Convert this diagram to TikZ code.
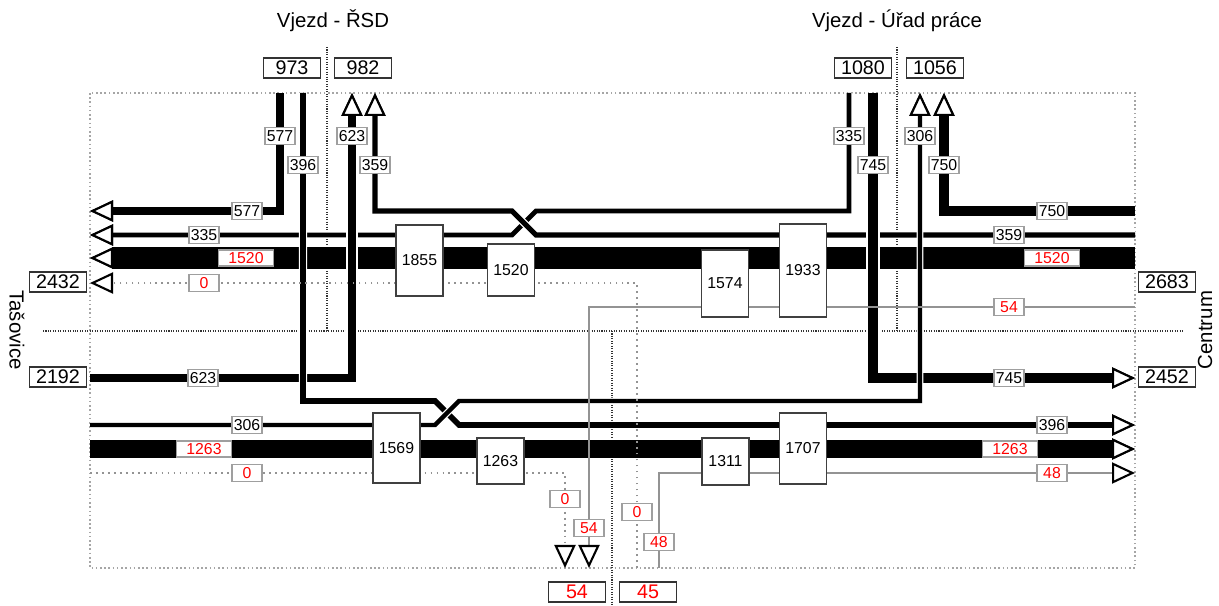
\documentclass[tikz,border=0pt]{standalone}
\usepackage{fontspec}
\setmainfont{Liberation Sans}
\usetikzlibrary{arrows.meta}

\begin{document}
\begin{tikzpicture}[
      x=0.1mm, y=-0.1mm,
      % --- GLOBAL STYLES ---
      every node/.style={font=\fontsize{4.5}{5}\selectfont, inner sep=0pt},
      title/.style={font=\fontsize{5.8}{6}\selectfont},
      gate/.style={draw=black!80, fill=white, line width=0.4pt, minimum width=5.7mm, minimum height=2mm, font=\fontsize{5.6}{6}\selectfont},
      junction/.style={draw=black!75, fill=white, line width=0.4pt, minimum width=4.7mm},
      lbl/.style={draw=gray!75, fill=white, line width=0.4pt, minimum width=3mm, minimum height=1.7mm},
      lbl-red/.style={lbl, text=red},
      lbl-wide/.style={lbl, text=red, minimum width=5.5mm, minimum height=1.6mm},
      %
      vol/.style={line width=#1/700*1mm, preaction={draw=white, line width=#1/700*1mm+0.25mm}},
      thin-flow/.style={draw=gray!85, line width=0.35pt},
      zero-flow/.style={draw=gray!85, line width=0.6pt, dash pattern=on 0.5pt off 1.2pt},
      arr-out/.style={-{Triangle[length=2.3mm, width=2.1mm, line width=0.6pt, color=black, fill=white]}},
      frame-line/.style={draw=gray!70, line width=0.6pt, dash pattern=on 0.45pt off 0.75pt},
      split-line/.style={draw=black!80, line width=0.3pt, dash pattern=on 0.3pt off 0.4pt}
  ]
    \useasboundingbox (0,0) rectangle (1219,606);
    %
    % 1. Frame and section dividers
    \draw[frame-line] (90,93) rectangle (1135,568);
    \draw[split-line] (43,331) -- (1183,331);
    \draw[split-line] (327,47) -- (327,331);
    \draw[split-line] (897,47) -- (897,331);
    \draw[split-line] (612,331) -- (612,606);
    %
    % 2. Arm names and gate totals
    \node[title] (t-rsd) at (333,21) {Vjezd - ŘSD};
    \node[title] (t-urad) at (897,21) {Vjezd - Úřad práce};
    \node[title, rotate=-90] (t-tas) at (17,330) {Tašovice};
    \node[title, rotate=90] (t-cen) at (1205,330) {Centrum};
    \node[gate] (g973) at (292,68) {973};
    \node[gate] (g982) at (363,68) {982};
    \node[gate] (g1080) at (863,68) {1080};
    \node[gate] (g1056) at (935,68) {1056};
    \node[gate] (g2432) at (58,282) {2432};
    \node[gate] (g2192) at (58,377) {2192};
    \node[gate] (g2683) at (1167,282) {2683};
    \node[gate] (g2452) at (1167,377) {2452};
    \node[gate, text=red] (g54) at (577,592) {54};
    \node[gate, text=red] (g45) at (648,592) {45};
    %
    % 3. Flow ends on the frame
    \coordinate (n577) at (280,93);
    \coordinate (n396) at (303,93);
    \coordinate (n623) at (352,93);
    \coordinate (n359) at (375,93);
    \coordinate (n335) at (849,93);
    \coordinate (n745) at (873,93);
    \coordinate (n306) at (920,93);
    \coordinate (n750) at (944,93);
    \coordinate (w577) at (90,211);
    \coordinate (w335) at (90,235);
    \coordinate (w1520) at (90,258);
    \coordinate (w0a) at (90,283);
    \coordinate (w623) at (90,378);
    \coordinate (w306) at (90,425);
    \coordinate (w1263) at (90,449);
    \coordinate (w0b) at (90,473);
    \coordinate (e750) at (1135,211);
    \coordinate (e359) at (1135,235);
    \coordinate (e1520) at (1135,258);
    \coordinate (e54) at (1135,307);
    \coordinate (e745) at (1135,378);
    \coordinate (e396) at (1135,425);
    \coordinate (e1263) at (1135,449);
    \coordinate (e48) at (1135,473);
    \coordinate (s0b) at (565,568);
    \coordinate (s54) at (589,568);
    \coordinate (s0a) at (637,568);
    \coordinate (s48) at (659,568);
    % crossings
    \coordinate (xt1) at (536,235);
    \coordinate (xt2) at (512,211);
    \coordinate (xt3) at (536,211);
    \coordinate (xt4) at (512,235);
    \coordinate (xb1) at (435,401);
    \coordinate (xb2) at (459,425);
    \coordinate (xb3) at (435,425);
    \coordinate (xb4) at (459,401);
    %
    % 4. Flows
    \draw[vol=1520, arr-out] (e1520) -- (w1520);
    \draw[vol=1263, arr-out] (w1263) -- (e1263);
    \draw[vol=335, arr-out] (n335) |- (xt3) -- (xt4) -- (w335);
    \draw[vol=359, arr-out] (e359) -- (xt1) -- (xt2) -| (n359);
    \draw[vol=577, arr-out] (n577) |- (w577);
    \draw[vol=750, arr-out] (e750) -| (n750);
    \draw[vol=623, arr-out] (w623) -| (n623);
    \draw[vol=396, arr-out] (n396) |- (xb1) -- (xb2) -- (e396);
    \draw[vol=745, arr-out] (n745) |- (e745);
    \draw[vol=306, arr-out] (w306) -- (xb3) -- (xb4) -| (n306);
    \draw[zero-flow, arr-out] (s0a) |- (w0a);
    \draw[zero-flow, arr-out] (w0b) -| (s0b);
    \draw[thin-flow, arr-out] (e54) -| (s54);
    \draw[thin-flow, arr-out] (s48) |- (e48);
    %
    % 5. Junction totals
    \node[junction, minimum height=7.1mm] (j1855) at (419.5,260.5) {1855};
    \node[junction, minimum height=5.2mm] (j1520) at (511,270) {1520};
    \node[junction, minimum height=6.7mm] (j1574) at (725,283.5) {1574};
    \node[junction, minimum height=9.3mm] (j1933) at (803,270.5) {1933};
    \node[junction, minimum height=7.0mm] (j1569) at (396.5,448) {1569};
    \node[junction, minimum height=4.6mm] (j1263) at (500.5,461) {1263};
    \node[junction, minimum height=4.7mm] (j1311) at (725.5,461.5) {1311};
    \node[junction, minimum height=7.1mm] (j1707) at (803,448.5) {1707};
    %
    % 6. Flow labels
    \node[lbl] (l577v) at (280,136) {577};
    \node[lbl] (l396v) at (303,165) {396};
    \node[lbl] (l623v) at (352,136) {623};
    \node[lbl] (l359v) at (375,165) {359};
    \node[lbl] (l335v) at (849,136) {335};
    \node[lbl] (l745v) at (873,165) {745};
    \node[lbl] (l306v) at (920,136) {306};
    \node[lbl] (l750v) at (944,165) {750};
    \node[lbl] (l577h) at (247,211) {577};
    \node[lbl] (l335h) at (204,235) {335};
    \node[lbl-wide] (l1520w) at (246,258) {1520};
    \node[lbl-red] (l0aw) at (204,283) {0};
    \node[lbl] (l623h) at (203,378) {623};
    \node[lbl] (l306h) at (247,425) {306};
    \node[lbl-wide] (l1263w) at (204,449) {1263};
    \node[lbl-red] (l0bw) at (247,473) {0};
    \node[lbl] (l750h) at (1052,211) {750};
    \node[lbl] (l359h) at (1009,235) {359};
    \node[lbl-wide] (l1520e) at (1052,258) {1520};
    \node[lbl-red] (l54e) at (1009,307) {54};
    \node[lbl] (l745h) at (1009,378) {745};
    \node[lbl] (l396h) at (1052,425) {396};
    \node[lbl-wide] (l1263e) at (1010,449) {1263};
    \node[lbl-red] (l48e) at (1052,473) {48};
    \node[lbl-red] (l0bs) at (565,499) {0};
    \node[lbl-red] (l54s) at (589,528) {54};
    \node[lbl-red] (l0as) at (637,512) {0};
    \node[lbl-red] (l48s) at (659,542) {48};
\end{tikzpicture}
\end{document}
